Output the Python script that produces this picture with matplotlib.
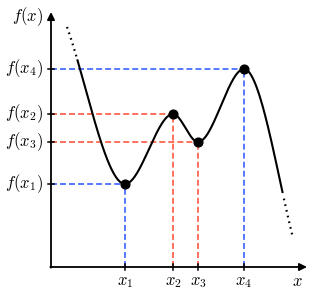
import numpy as np
import matplotlib.pyplot as plt

plt.rcParams['mathtext.fontset'] = 'cm'
plt.rcParams['lines.scale_dashes'] = False

# key points of the curve (x, f(x))
x_pts = [7.4, 12.2, 14.7, 19.3]
f_pts = [8.3, 15.3, 12.5, 19.8]
tick_x = ['$x_1$', '$x_2$', '$x_3$', '$x_4$']
tick_y = ['$f(x_1)$', '$f(x_2)$', '$f(x_3)$', '$f(x_4)$']
line_cols = ['#2b55ff', '#ff4a30', '#ff4a30', '#2b55ff']

# ends of the drawn curve and slopes there
start = (1.6, 24.0, -2.8)
end = (24.2, 2.9, -4.0)
solid_from, solid_to = 2.6, 23.2

def hermite(nodes):
    xs, ys = [], []
    for (x0, y0, m0), (x1, y1, m1) in zip(nodes[:-1], nodes[1:]):
        t = np.linspace(0, 1, 120)
        h = x1 - x0
        y = ((2*t**3 - 3*t**2 + 1)*y0 + (t**3 - 2*t**2 + t)*h*m0
             + (-2*t**3 + 3*t**2)*y1 + (t**3 - t**2)*h*m1)
        xs.append(x0 + t*h)
        ys.append(y)
    return np.concatenate(xs), np.concatenate(ys)

nodes = [start] + [(a, b, 0.0) for a, b in zip(x_pts, f_pts)] + [end]
cx, cy = hermite(nodes)

fig = plt.figure(figsize=(3.17, 2.91), dpi=100)
ax = fig.add_axes([0, 0, 1, 1])
ax.set_xlim(-5.1, 26.6)
ax.set_ylim(-2.4, 26.7)
ax.axis('off')

# dashed guide lines
for xi, fi, c in zip(x_pts, f_pts, line_cols):
    ax.plot([0, xi], [fi, fi], color=c, lw=1.1, dashes=(4.3, 2.2))
    ax.plot([xi, xi], [0, fi], color=c, lw=1.1, dashes=(4.3, 2.2))

# the curve: dotted at both ends, solid in between
m = (cx >= solid_from) & (cx <= solid_to)
ax.plot(cx[m], cy[m], color='black', lw=1.5, solid_capstyle='butt')
ax.plot(cx[cx <= solid_from], cy[cx <= solid_from], color='black', lw=1.6, ls=(0, (1.2, 3.0)))
ax.plot(cx[cx >= solid_to], cy[cx >= solid_to], color='black', lw=1.6, ls=(1.5, (1.2, 3.0)))
ax.plot(x_pts, f_pts, 'o', color='black', ms=6.3, zorder=5)

# axes with arrows
arr = dict(arrowstyle='-|>', color='black', lw=1.3, mutation_scale=11, shrinkA=0, shrinkB=0)
ax.annotate('', xy=(25.6, 0), xytext=(-0.07, 0), arrowprops=arr)
ax.annotate('', xy=(0, 25.5), xytext=(0, -0.07), arrowprops=arr)

fs = 12
for xi, lab in zip(x_pts, tick_x):
    ax.plot([xi, xi], [-0.3, 0.3], color='black', lw=1.1)
    ax.text(xi, -1.4, lab, ha='center', va='center', fontsize=fs)
for fi, lab in zip(f_pts, tick_y):
    ax.plot([-0.3, 0.3], [fi, fi], color='black', lw=1.1)
    ax.text(-0.8, fi, lab, ha='right', va='center', fontsize=fs)

ax.text(-0.8, 25.0, '$f(x)$', ha='right', va='center', fontsize=fs)
ax.text(24.6, -1.4, '$x$', ha='center', va='center', fontsize=fs)

fig.savefig('out.png', dpi=100)
